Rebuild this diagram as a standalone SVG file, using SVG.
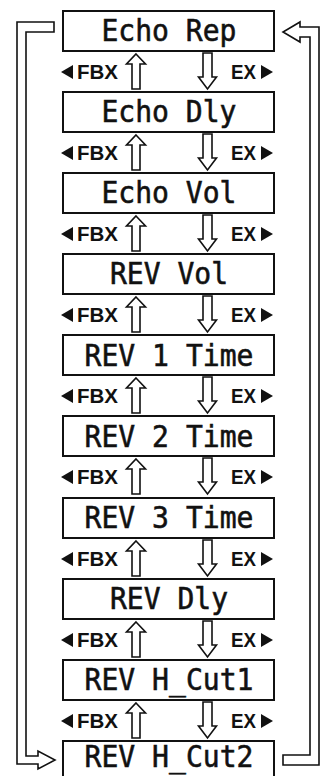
<svg xmlns="http://www.w3.org/2000/svg" xmlns:xlink="http://www.w3.org/1999/xlink" width="325" height="776" viewBox="0 0 325 776">
<style>
.box{fill:#fff;stroke:#111;stroke-width:2}
.lbl{font-family:"DejaVu Sans Mono",monospace;font-size:31px;fill:#111;stroke:#111;stroke-width:0.6;text-anchor:middle}
.nav{font-family:"Liberation Sans",Arial,sans-serif;font-size:20px;font-weight:bold;fill:#111}
.hol{fill:#fff;stroke:#111;stroke-width:1.6;stroke-linejoin:miter}
.tri{fill:#111}
</style>
<defs>
<path id="up" class="hol" d="M136,3 L145.5,13 L140,13 L140,38 L132,38 L132,13 L126.5,13 Z"/>
<path id="down" class="hol" d="M203,2 L212,2 L212,26 L216.5,26 L207.5,38 L198.5,26 L203,26 Z"/>
<g id="navrow">
<use xlink:href="#up"/>
<use xlink:href="#down"/>
<path class="tri" d="M73,14 L73,28 L61,21 Z"/>
<text class="nav" x="77" y="28" textLength="41" lengthAdjust="spacingAndGlyphs">FBX</text>
<text class="nav" x="231" y="28" textLength="25" lengthAdjust="spacingAndGlyphs">EX</text>
<path class="tri" d="M261,14 L261,28 L273,21 Z"/>
</g>
</defs>
<g id="connectors">
<path class="hol" stroke-width="2" d="M54,22 L17,22 L17,764 L38,764 L38,769 L55,760 L38,751 L38,756 L26,756 L26,32 L54,32 Z"/>
<path class="hol" stroke-width="2" d="M283,755 L310,755 L310,37 L300,37 L300,42 L283,32 L300,22 L300,27 L319,27 L319,765 L283,765 Z"/>
<use xlink:href="#navrow" transform="translate(0,51)"/>
<use xlink:href="#navrow" transform="translate(0,132)"/>
<use xlink:href="#navrow" transform="translate(0,213)"/>
<use xlink:href="#navrow" transform="translate(0,294)"/>
<use xlink:href="#navrow" transform="translate(0,375)"/>
<use xlink:href="#navrow" transform="translate(0,456)"/>
<use xlink:href="#navrow" transform="translate(0,538)"/>
<use xlink:href="#navrow" transform="translate(0,619)"/>
<use xlink:href="#navrow" transform="translate(0,700)"/>
</g>
<g id="n1"><rect class="box" x="63" y="11" width="211" height="40"/><text class="lbl" x="169" y="41" textLength="135" lengthAdjust="spacingAndGlyphs">Echo Rep</text></g>
<g id="n2"><rect class="box" x="63" y="92" width="211" height="40"/><text class="lbl" x="169" y="122" textLength="135" lengthAdjust="spacingAndGlyphs">Echo Dly</text></g>
<g id="n3"><rect class="box" x="63" y="173" width="211" height="40"/><text class="lbl" x="169" y="203" textLength="135" lengthAdjust="spacingAndGlyphs">Echo Vol</text></g>
<g id="n4"><rect class="box" x="63" y="254" width="211" height="40"/><text class="lbl" x="169" y="284" textLength="118" lengthAdjust="spacingAndGlyphs">REV Vol</text></g>
<g id="n5"><rect class="box" x="63" y="335" width="211" height="40"/><text class="lbl" x="169" y="366" textLength="169" lengthAdjust="spacingAndGlyphs">REV 1 Time</text></g>
<g id="n6"><rect class="box" x="63" y="416" width="211" height="40"/><text class="lbl" x="169" y="447" textLength="169" lengthAdjust="spacingAndGlyphs">REV 2 Time</text></g>
<g id="n7"><rect class="box" x="63" y="498" width="211" height="40"/><text class="lbl" x="169" y="528" textLength="169" lengthAdjust="spacingAndGlyphs">REV 3 Time</text></g>
<g id="n8"><rect class="box" x="63" y="579" width="211" height="40"/><text class="lbl" x="169" y="609" textLength="118" lengthAdjust="spacingAndGlyphs">REV Dly</text></g>
<g id="n9"><rect class="box" x="63" y="660" width="211" height="40"/><text class="lbl" x="169" y="690" textLength="169" lengthAdjust="spacingAndGlyphs">REV H_Cut1</text></g>
<g id="n10"><rect class="box" x="63" y="741" width="211" height="40"/><text class="lbl" x="169" y="767" textLength="169" lengthAdjust="spacingAndGlyphs">REV H_Cut2</text></g>
</svg>
